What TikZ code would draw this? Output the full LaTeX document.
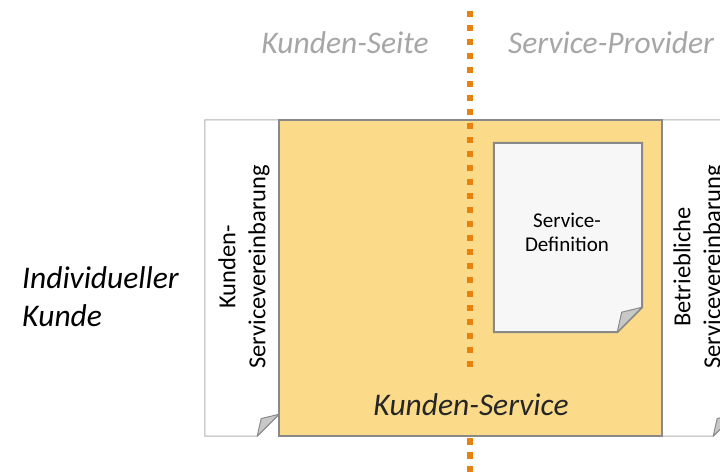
\documentclass[tikz,border=0pt]{standalone}
\usepackage{fontspec}
\setmainfont{Carlito}
\usetikzlibrary{calc}

\definecolor{strichorange}{HTML}{E8820C}
\definecolor{servicegelb}{HTML}{FBDB8A}
\definecolor{seitengrau}{HTML}{A6A6A6}
\definecolor{rahmengrau}{HTML}{898989}
\definecolor{papierrand}{HTML}{B0B0B0}
\definecolor{blattgrau}{HTML}{F7F7F7}
\definecolor{knickgrau}{HTML}{C8C8C8}

\tikzset{
  blatt/.style={inner sep=0pt},
  papier/.style={draw=papierrand, line width=1pt, fill=white},
  definition/.style={draw=rahmengrau, line width=2pt, fill=blattgrau},
  knick/.style={draw=rahmengrau, line width=1pt, fill=knickgrau, line join=round},
  grenze/.style={strichorange, line width=6.6pt, dash pattern=on 6.6pt off 7.4pt},
  kursiv/.style={font=\fontsize{31.5}{38}\selectfont\itshape},
  seite/.style={kursiv, text=seitengrau},
  vereinbarung/.style={rotate=90, align=center, inner sep=0pt,
    font=\fontsize{24.5}{30}\selectfont},
}

% Blatt mit Eselsohr unten rechts: Name, Stil, Knickgroesse
\newcommand{\faltblatt}[3]{%
  \draw[#2] (#1.north west) -- (#1.north east) -- ([yshift=#3]#1.south east)
    -- ([xshift=-#3]#1.south east) -- (#1.south west) -- cycle;
  \draw[knick] ([yshift=#3]#1.south east)
    -- ([xshift=-0.82*#3,yshift=0.8*#3]#1.south east)
    -- ([xshift=-#3]#1.south east) -- cycle;
}

\begin{document}
\begin{tikzpicture}[x=1pt, y=-1pt]
  \useasboundingbox (0,0) rectangle (720,472);

  % Vereinbarungen links und rechts
  \node[blatt, minimum width=74, minimum height=316] (kundenblatt) at (242,278) {};
  \faltblatt{kundenblatt}{papier}{22}
  \node[blatt, minimum width=73, minimum height=316] (betriebsblatt) at (698.5,278) {};
  \faltblatt{betriebsblatt}{papier}{22}

  \node[vereinbarung] (kundentext) at (244,267) {Kunden-\\Servicevereinbarung};
  \node[vereinbarung] (betriebstext) at (699,267) {Betriebliche\\Servicevereinbarung};

  % Kunden-Service
  \node[blatt, draw=rahmengrau, line width=2pt, fill=servicegelb,
    minimum width=383, minimum height=316] (kundenservice) at (470.5,278) {};
  \node[kursiv, text=black!85, anchor=base]
    (servicetext) at (471,415) {Kunden-Service};

  % Service-Definition
  \node[blatt, minimum width=148, minimum height=189] (definition) at (568,237.5) {};
  \faltblatt{definition}{definition}{25}
  \node[align=center, font=\fontsize{21}{24}\selectfont] (definitionstext)
    at (567,232) {Service-\\Definition};

  % Grenze zwischen Kunde und Provider
  \coordinate (grenze oben) at (470,10.7);
  \coordinate (grenze mitte) at (470,367);
  \coordinate (grenze unten) at (470,472);
  \draw[grenze] (grenze oben) -- (grenze mitte);
  \draw[grenze] (kundenservice.south -| grenze unten) ++(0,1) -- (grenze unten);

  % Beschriftungen
  \node[seite] (kundenseite) at (345,43) {Kunden-Seite};
  \node[seite] (provider) at (611,43) {Service-Provider};
  \node[kursiv, align=left, anchor=west, inner sep=0pt]
    (kunde) at (22,297) {Individueller\\Kunde};
\end{tikzpicture}
\end{document}
